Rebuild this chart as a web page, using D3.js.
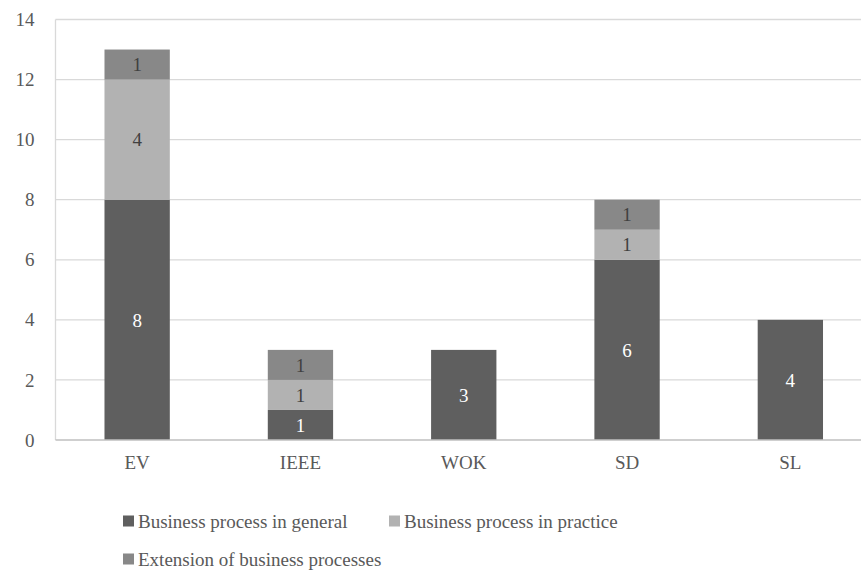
<!DOCTYPE html>
<html>
<head>
<meta charset="utf-8">
<script src="https://cdnjs.cloudflare.com/ajax/libs/d3/7.8.5/d3.min.js"></script>
<style>
  body { margin: 0; background: #fff; }
</style>
</head>
<body>
<div id="container"></div>
<script>
// data
var categories = ["EV", "IEEE", "WOK", "SD", "SL"];
var seriesNames = ["Business process in general", "Business process in practice", "Extension of business processes"];
var general   = [8, 1, 3, 6, 4];
var practice  = [4, 1, 0, 1, 0];
var extension = [1, 1, 0, 1, 0];
var yTicks = [0, 2, 4, 6, 8, 10, 12, 14];

var colors = ["#5f5f5f", "#b2b2b2", "#888888"];
var labelColors = ["#ffffff", "#404040", "#404040"];
var serif = "'Liberation Serif'";
var fontSize = "19px";

// sizes
var width = 861, height = 574;
var x0 = 55.5, x1 = 872, yBottom = 440, yTop = 19.5;

var svg = d3.select("#container")
	.append("svg")
	.attr("width", width)
	.attr("height", height);

var xScale = d3.scaleBand()
	.domain(categories)
	.range([x0, x1])
	.paddingInner(0.6)
	.paddingOuter(0.3);

var yScale = d3.scaleLinear()
	.domain([0, 14])
	.range([yBottom, yTop]);

// grid lines
svg.append("g")
	.selectAll("line")
	.data(yTicks.filter(function(d) { return d > 0; }))
	.enter().append("line")
		.attr("x1", x0).attr("x2", width)
		.attr("y1", function(d) { return yScale(d); })
		.attr("y2", function(d) { return yScale(d); })
		.attr("stroke", "#d9d9d9")
		.attr("stroke-width", 1.3);

// left border
svg.append("line")
	.attr("x1", x0).attr("x2", x0)
	.attr("y1", yScale(14)).attr("y2", yScale(0))
	.attr("stroke", "#d9d9d9")
	.attr("stroke-width", 1.3);

// stacked data
var table = categories.map(function(c, i) {
	return { cat: c, s0: general[i], s1: practice[i], s2: extension[i] };
});
var stack = d3.stack().keys(["s0", "s1", "s2"])(table);

var layers = svg.append("g")
	.selectAll("g")
	.data(stack)
	.enter().append("g")
		.attr("fill", function(d, i) { return colors[i]; });

layers.selectAll("rect")
	.data(function(d) { return d; })
	.enter().append("rect")
		.attr("x", function(d) { return xScale(d.data.cat); })
		.attr("width", xScale.bandwidth())
		.attr("y", function(d) { return yScale(d[1]); })
		.attr("height", function(d) { return yScale(d[0]) - yScale(d[1]); });

// value labels
stack.forEach(function(layer, li) {
	svg.append("g")
		.selectAll("text")
		.data(layer.filter(function(d) { return d[1] - d[0] > 0; }))
		.enter().append("text")
			.attr("x", function(d) { return xScale(d.data.cat) + xScale.bandwidth() / 2; })
			.attr("y", function(d) { return (yScale(d[0]) + yScale(d[1])) / 2; })
			.attr("dy", "0.35em")
			.attr("text-anchor", "middle")
			.style("font-family", serif)
			.style("font-size", fontSize)
			.attr("fill", labelColors[li])
			.text(function(d) { return d[1] - d[0]; });
});

// x axis
var xAxis = svg.append("g")
	.attr("transform", "translate(0," + yBottom + ")")
	.call(d3.axisBottom(xScale).tickSize(0).tickPadding(16));
xAxis.select(".domain").remove();
xAxis.append("line")
	.attr("x1", x0).attr("x2", width)
	.attr("stroke", "#bfbfbf")
	.attr("stroke-width", 1.3);
xAxis.selectAll("text")
	.style("font-family", serif)
	.style("font-size", fontSize)
	.attr("fill", "#595959");

// y axis
var yAxis = svg.append("g")
	.attr("transform", "translate(" + x0 + ",0)")
	.call(d3.axisLeft(yScale).tickValues(yTicks).tickSize(0).tickPadding(21));
yAxis.select(".domain").remove();
yAxis.selectAll("text")
	.style("font-family", serif)
	.style("font-size", fontSize)
	.attr("fill", "#595959");

// legend
var legendPos = [[123, 521], [389, 521], [123, 559]];
var legend = svg.append("g")
	.selectAll("g")
	.data(seriesNames)
	.enter().append("g")
		.attr("transform", function(d, i) { return "translate(" + legendPos[i][0] + "," + legendPos[i][1] + ")"; });

legend.append("rect")
	.attr("x", 0).attr("y", -5.5)
	.attr("width", 11).attr("height", 11)
	.attr("fill", function(d, i) { return colors[i]; });

legend.append("text")
	.attr("x", 15)
	.attr("dy", "0.35em")
	.style("font-family", serif)
	.style("font-size", fontSize)
	.attr("fill", "#595959")
	.text(function(d) { return d; });
</script>
</body>
</html>
